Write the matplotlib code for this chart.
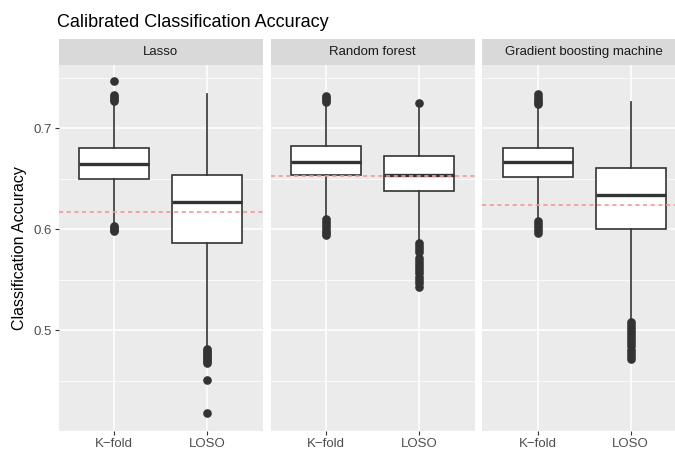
import matplotlib
matplotlib.use("Agg")
import matplotlib.pyplot as plt

plt.rcParams["font.family"] = ["Liberation Sans", "DejaVu Sans"]

# ---- data -------------------------------------------------------------
models = ["Lasso", "Random forest", "Gradient boosting machine"]
schemes = ["K\u2212fold", "LOSO"]

# per model: [K-fold, LOSO]
q1 = [[0.650, 0.586], [0.654, 0.638], [0.652, 0.600]]
med = [[0.664, 0.627], [0.666, 0.654], [0.666, 0.634]]
q3 = [[0.680, 0.654], [0.682, 0.672], [0.680, 0.660]]
whis_lo = [[0.605, 0.484], [0.611, 0.588], [0.610, 0.511]]
whis_hi = [[0.725, 0.734], [0.725, 0.722], [0.722, 0.726]]

fliers = [
    [
        [0.747, 0.733, 0.731, 0.729, 0.727, 0.603, 0.601, 0.599, 0.598],
        [0.481, 0.479, 0.477, 0.475, 0.473, 0.471, 0.469, 0.467, 0.451, 0.418],
    ],
    [
        [0.732, 0.730, 0.728, 0.726, 0.610, 0.607, 0.604, 0.601, 0.598, 0.596, 0.594],
        [0.725, 0.586, 0.583, 0.580, 0.577, 0.571, 0.568, 0.565, 0.562,
         0.559, 0.556, 0.553, 0.550, 0.547, 0.543],
    ],
    [
        [0.734, 0.731, 0.728, 0.726, 0.724, 0.608, 0.605, 0.602, 0.599, 0.596],
        [0.508, 0.505, 0.502, 0.499, 0.496, 0.493, 0.490, 0.487, 0.484,
         0.480, 0.477, 0.474, 0.471],
    ],
]

# mean accuracy reference lines
ref_line = [0.617, 0.653, 0.624]

# ---- layout -----------------------------------------------------------
W, H = 675, 453
fig = plt.figure(figsize=(W / 100, H / 100), dpi=100)
fig.patch.set_facecolor("white")

panel_left = [58.5, 270.5, 482.0]
panel_w = 204.5
panel_top, panel_bot = 65.0, 431.0
strip_top = 39.0

ink = "#333333"
for i, model in enumerate(models):
    l = panel_left[i]
    ax = fig.add_axes([l / W, (H - panel_bot) / H, panel_w / W,
                       (panel_bot - panel_top) / H])
    ax.set_facecolor("#EBEBEB")
    for s in ax.spines.values():
        s.set_visible(False)
    ax.set_xlim(0.4, 2.6)
    ax.set_ylim(0.400, 0.7625)
    ax.set_yticks([0.5, 0.6, 0.7])
    ax.set_yticks([0.45, 0.55, 0.65, 0.75], minor=True)
    ax.set_xticks([1, 2])
    ax.set_xticklabels(schemes)
    ax.grid(True, which="major", color="white", linewidth=1.1)
    ax.grid(True, which="minor", axis="y", color="white", linewidth=0.55)
    ax.set_axisbelow(True)
    ax.tick_params(which="minor", length=0)
    ax.tick_params(axis="x", length=2.75, width=0.8, color=ink,
                   labelsize=9.5, labelcolor="#4D4D4D", pad=2)
    if i == 0:
        ax.set_yticklabels(["0.5", "0.6", "0.7"])
        ax.tick_params(axis="y", length=2.75, width=0.8, color=ink,
                       labelsize=9.5, labelcolor="#4D4D4D", pad=2)
    else:
        ax.tick_params(axis="y", length=0, labelleft=False)

    stats = []
    for j in range(2):
        stats.append(dict(q1=q1[i][j], med=med[i][j], q3=q3[i][j],
                          whislo=whis_lo[i][j], whishi=whis_hi[i][j],
                          fliers=fliers[i][j], label=schemes[j]))
    ax.bxp(stats, positions=[1, 2], widths=0.75, patch_artist=True,
           showcaps=False, manage_ticks=False,
           boxprops=dict(facecolor="white", edgecolor=ink, linewidth=1.2),
           medianprops=dict(color=ink, linewidth=2.4),
           whiskerprops=dict(color=ink, linewidth=1.2),
           flierprops=dict(marker="o", markerfacecolor=ink,
                           markeredgecolor=ink, markersize=5.2,
                           linestyle="none"))
    ax.axhline(ref_line[i], color="#F29999", linewidth=1.2,
               linestyle=(0, (2.5, 2.1)), zorder=5)

    # facet strip
    sax = fig.add_axes([l / W, (H - panel_top) / H, panel_w / W,
                        (panel_top - strip_top) / H])
    sax.set_facecolor("#D9D9D9")
    for s in sax.spines.values():
        s.set_visible(False)
    sax.set_xticks([])
    sax.set_yticks([])
    sax.text(0.5, 0.5, model, ha="center", va="center", fontsize=9.5,
             color="#1A1A1A", transform=sax.transAxes)

fig.text(57 / W, (H - 27) / H, "Calibrated Classification Accuracy",
         fontsize=13, color="black", ha="left", va="baseline")
fig.text(20 / W, (H - 248) / H, "Classification Accuracy", fontsize=11.5,
         rotation=90, ha="center", va="center", color="black")

fig.savefig("out.png", dpi=100)
